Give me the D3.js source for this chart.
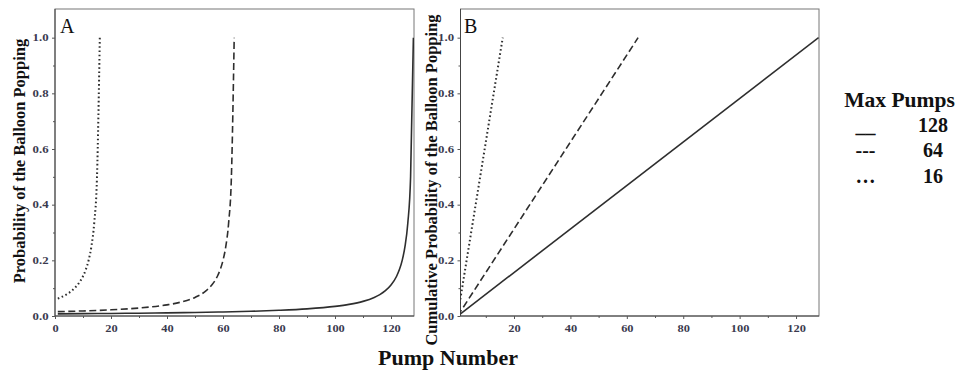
<!DOCTYPE html>
<html><head><meta charset="utf-8">
<script src="https://cdn.jsdelivr.net/npm/d3@7"></script>
<style>
html,body{margin:0;padding:0;background:#fff;}
svg{display:block;}
</style></head>
<body>
<svg id="chart" width="961" height="375"></svg>
<script>
// ---- data ----
const maxPumps = [128, 64, 16];
const legendMarks = ["__", "---", "\u2026"];
const lineStyles = ["solid", "dashed", "dotted"];

// Panel A: probability of popping at each pump
const pumpsA128 = [1, 10, 20, 30, 40, 50, 60, 70, 80, 90, 100, 105, 110, 114, 116, 118, 120, 122, 123, 124, 125, 126, 127, 128];
const probA128  = [0.0078, 0.0084, 0.0092, 0.0101, 0.0112, 0.0127, 0.0145, 0.0169, 0.0204, 0.0256, 0.0345, 0.0417, 0.0526, 0.0667, 0.0769, 0.0909, 0.1111, 0.1429, 0.1667, 0.2, 0.25, 0.3333, 0.5, 1.0];
const pumpsA64  = [1, 10, 20, 30, 40, 45, 50, 54, 56, 58, 59, 60, 61, 62, 63, 64];
const probA64   = [0.0156, 0.0182, 0.0222, 0.0286, 0.04, 0.05, 0.0667, 0.0909, 0.1111, 0.1429, 0.1667, 0.2, 0.25, 0.3333, 0.5, 1.0];
const pumpsA16  = [1, 2, 3, 4, 5, 6, 7, 8, 9, 10, 11, 12, 13, 14, 15, 16];
const probA16   = [0.0625, 0.0667, 0.0714, 0.0769, 0.0833, 0.0909, 0.1, 0.1111, 0.125, 0.1429, 0.1667, 0.2, 0.25, 0.3333, 0.5, 1.0];

// Panel B: cumulative probability
const pumpsB128 = [0, 128];
const cumB128   = [0, 1.0];
const pumpsB64  = [0, 64];
const cumB64    = [0, 1.0];
const pumpsB16  = [0, 16];
const cumB16    = [0, 1.0];

const xTicksA = [0, 20, 40, 60, 80, 100, 120];
const xTicksB = [20, 40, 60, 80, 100, 120];
const yTicks  = [0.0, 0.2, 0.4, 0.6, 0.8, 1.0];
const yMinor  = [0.1, 0.3, 0.5, 0.7, 0.9];

// ---- drawing ----
const svg = d3.select("#chart");
const serif = "'Liberation Serif','Times New Roman',serif";
const lineColor = "#2e2e2e";
const dash = {solid: null, dashed: "7,3.5", dotted: "1.6,2.6"};
const widthFor = {solid: 1.6, dashed: 1.6, dotted: 2};

const y = d3.scaleLinear().domain([0, 1.103]).range([316, 9]);

function stretch(sel) {
  sel.each(function() {
    const t = this.textContent;
    const w = t.replace(/\./g, "").length * 6.2 + (t.split(".").length - 1) * 3.6;
    d3.select(this).attr("textLength", w).attr("lengthAdjust", "spacingAndGlyphs");
  });
}

function panel(opts) {
  const {x, frameLeft, frameRight, xTicks, xMinor, series, label, labelX, clipId} = opts;
  const g = svg.append("g");
  g.append("defs").append("clipPath").attr("id", clipId)
    .append("rect").attr("x", frameLeft).attr("y", 9)
    .attr("width", frameRight - frameLeft).attr("height", 307);

  g.append("rect").attr("x", frameLeft).attr("y", 9)
    .attr("width", frameRight - frameLeft).attr("height", 307)
    .attr("fill", "#fff").attr("stroke", "#777").attr("stroke-width", 1);

  const xa = g.append("g").attr("transform", "translate(0,316)")
    .call(d3.axisBottom(x).tickValues(xTicks).tickSize(3).tickSizeOuter(0).tickFormat(d3.format("d")));
  const xm = g.append("g").attr("transform", "translate(0,316)")
    .call(d3.axisBottom(x).tickValues(xMinor).tickSize(2).tickSizeOuter(0).tickFormat(""));
  xm.select(".domain").remove();
  xa.select(".domain").attr("d", `M${frameLeft},0H${frameRight}`);
  const ya = g.append("g").attr("transform", `translate(${frameLeft},0)`)
    .call(d3.axisLeft(y).tickValues(yTicks).tickSize(3).tickSizeOuter(0).tickFormat(d3.format(".1f")));
  const ym = g.append("g").attr("transform", `translate(${frameLeft},0)`)
    .call(d3.axisLeft(y).tickValues(yMinor).tickSize(2).tickSizeOuter(0).tickFormat(""));
  ym.select(".domain").remove();
  ya.select(".domain").attr("d", "M0,9V316");

  [xa, xm, ya, ym].forEach(a => {
    a.selectAll("line").attr("stroke", "#555");
    a.selectAll(".domain").attr("stroke", "#444");
    a.selectAll("text").attr("font-family", serif).attr("font-size", 9.5)
      .attr("font-weight", "bold").attr("fill", "#3a3a4e");
  });
  stretch(xa.selectAll(".tick text"));
  stretch(ya.selectAll(".tick text"));
  xa.selectAll("text").attr("dy", "1.05em");
  ya.selectAll("text").attr("dx", "-0.05em");

  const lg = g.append("g").attr("clip-path", `url(#${clipId})`);
  series.forEach(s => {
    const pts = s.px.map((p, i) => [p, s.py[i]]);
    lg.append("path")
      .attr("d", d3.line().x(d => x(d[0])).y(d => y(d[1])).curve(d3.curveMonotoneX)(pts))
      .attr("fill", "none").attr("stroke", lineColor)
      .attr("stroke-width", widthFor[s.style])
      .attr("stroke-dasharray", dash[s.style]);
  });

  g.append("text").attr("x", labelX).attr("y", 33)
    .attr("font-family", serif).attr("font-size", 20).attr("fill", "#111").text(label);
}

const xA = d3.scaleLinear().domain([0, 128]).range([55, 413.4]);
panel({
  x: xA, frameLeft: 55, frameRight: 414, xTicks: xTicksA,
  xMinor: [10, 30, 50, 70, 90, 110],
  series: [
    {px: pumpsA128, py: probA128, style: lineStyles[0]},
    {px: pumpsA64, py: probA64, style: lineStyles[1]},
    {px: pumpsA16, py: probA16, style: lineStyles[2]}
  ],
  label: "A", labelX: 60, clipId: "clipA"
});

const xB = d3.scaleLinear().domain([0, 128]).range([457.6, 818.6]);
panel({
  x: xB, frameLeft: 460.5, frameRight: 819, xTicks: xTicksB,
  xMinor: [10, 30, 50, 70, 90, 110],
  series: [
    {px: pumpsB128, py: cumB128, style: lineStyles[0]},
    {px: pumpsB64, py: cumB64, style: lineStyles[1]},
    {px: pumpsB16, py: cumB16, style: lineStyles[2]}
  ],
  label: "B", labelX: 464, clipId: "clipB"
});

svg.append("text")
  .attr("transform", "translate(25,161) rotate(-90)")
  .attr("text-anchor", "middle").attr("font-family", serif)
  .attr("font-size", 16.5).attr("font-weight", "bold").attr("fill", "#111")
  .text("Probability of the Balloon Popping");
svg.append("text")
  .attr("transform", "translate(437,180) rotate(-90)")
  .attr("text-anchor", "middle").attr("font-family", serif)
  .attr("font-size", 16.5).attr("font-weight", "bold").attr("fill", "#111")
  .text("Cumulative Probability of the Balloon Popping");
svg.append("text")
  .attr("x", 448).attr("y", 365).attr("text-anchor", "middle")
  .attr("font-family", serif).attr("font-size", 22).attr("font-weight", "bold").attr("fill", "#111")
  .text("Pump Number");

const leg = svg.append("g").attr("font-family", serif).attr("font-weight", "bold").attr("fill", "#111");
leg.append("text").attr("x", 899.5).attr("y", 106.5).attr("text-anchor", "middle")
  .attr("font-size", 21.5).text("Max Pumps");
const rowY = [131.5, 157, 183];
maxPumps.forEach((m, i) => {
  leg.append("text").attr("x", 933).attr("y", rowY[i]).attr("text-anchor", "middle")
    .attr("font-size", 20).text(m);
  leg.append("text").attr("x", 865.5).attr("y", rowY[i]).attr("text-anchor", "middle")
    .attr("font-size", 20).text(legendMarks[i]);
});
</script>
</body></html>
